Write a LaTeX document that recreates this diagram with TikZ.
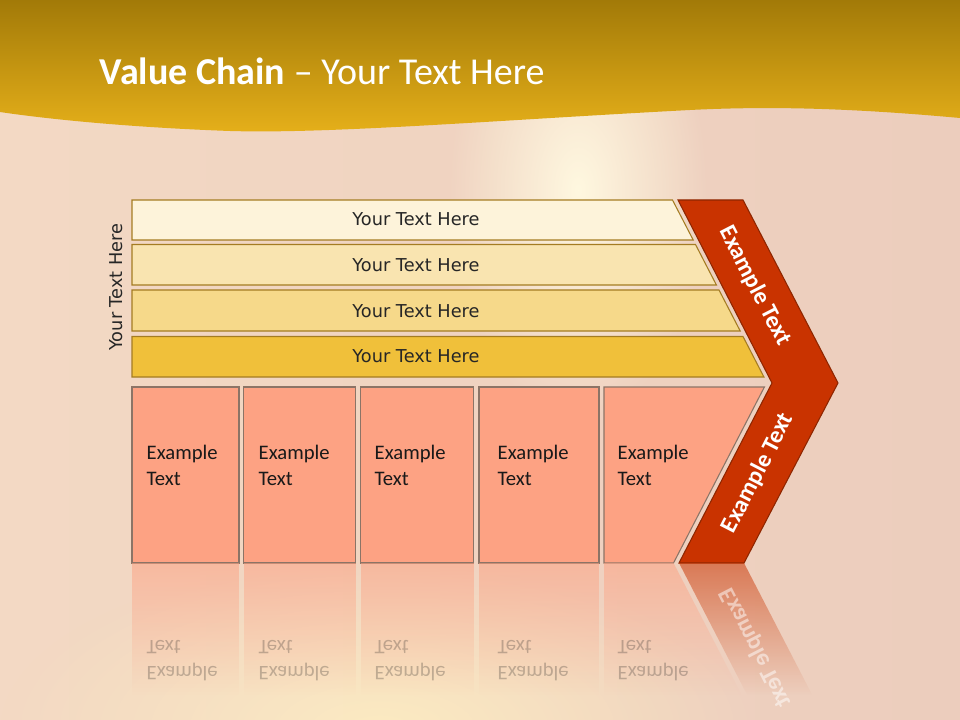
\documentclass[tikz,border=0pt]{standalone}
\usepackage{fontspec}
\setmainfont{Carlito}
\newfontfamily\labelfont{DejaVu Sans}
\usetikzlibrary{fadings}

\definecolor{bgpeach}{HTML}{F3D9C4}
\definecolor{bgmid}{HTML}{F6E2CA}
\definecolor{bgpink}{HTML}{ECCDBD}
\definecolor{glowA}{HTML}{FFF8E0}
\definecolor{glowB}{HTML}{FCEBC2}
\definecolor{goldDark}{HTML}{A27A08}
\definecolor{goldLight}{HTML}{E6B01A}
\definecolor{barA}{HTML}{FDF3DA}
\definecolor{barB}{HTML}{F9E4B0}
\definecolor{barC}{HTML}{F6D98A}
\definecolor{barD}{HTML}{F0C03A}
\definecolor{barline}{HTML}{A47C22}
\definecolor{salmon}{HTML}{FDA283}
\definecolor{boxline}{HTML}{8C7466}
\definecolor{chevred}{HTML}{C93300}
\definecolor{chevline}{HTML}{8E2600}

\tikzfading[name=reflectfade, top color=transparent!45, bottom color=transparent!100]
\tikzfading[name=glowfade, inner color=transparent!0, outer color=transparent!100]

\tikzset{
  bartext/.style={font=\labelfont\fontsize{13.3}{16}\selectfont, text=black!85},
  boxtext/.style={font=\fontsize{15.5}{19.5}\selectfont, align=left, anchor=west, text=black!90},
  chevtext/.style={font=\bfseries\fontsize{18}{21}\selectfont, text=white},
  barshape/.style={draw=barline, line width=0.8pt},
  boxshape/.style={draw=boxline, fill=salmon, line width=0.8pt},
}

\begin{document}
\begin{tikzpicture}[x=0.75pt,y=-0.75pt]
    \useasboundingbox (0,0) rectangle (960,720);

    % background
    \shade[left color=bgpeach, middle color=bgmid, right color=bgpink] (0,0) rectangle (960,720);
    \fill[glowA, path fading=glowfade] (578,190) ellipse [x radius=130, y radius=230];
    \fill[glowB, path fading=glowfade] (380,730) ellipse [x radius=380, y radius=170];

    % title band
    \shade[top color=goldDark, bottom color=goldLight]
        (0,0) -- (960,0) -- (960,118)
        .. controls (850,108) and (770,106) .. (690,110)
        .. controls (500,120) and (330,134) .. (230,131)
        .. controls (120,127) and (40,118) .. (0,112) -- cycle;
    \node[anchor=base west, text=white, font=\fontsize{28.5}{34}\selectfont] (title) at (95,85)
        {\textbf{Value Chain} -- Your Text Here};

    % bars
    \draw[barshape, fill=barA] (132,200) -- (672.5,200) -- (693.2,240) -- (132,240) -- cycle;
    \draw[barshape, fill=barB] (132,244.5) -- (695.5,244.5) -- (716.4,285) -- (132,285) -- cycle;
    \draw[barshape, fill=barC] (132,290) -- (719,290) -- (740.2,331) -- (132,331) -- cycle;
    \draw[barshape, fill=barD] (132,336.5) -- (743,336.5) -- (763.9,377) -- (132,377) -- cycle;

    \node[bartext] (r1) at (416,219) {Your Text Here};
    \node[bartext] (r2) at (416,265.5) {Your Text Here};
    \node[bartext] (r3) at (416,311) {Your Text Here};
    \node[bartext] (r4) at (416,356.5) {Your Text Here};
    \node[bartext, rotate=90] (side) at (116,287) {Your Text Here};

    % boxes
    \draw[boxshape] (132,387) rectangle (239,563);
    \draw[boxshape] (243.5,387) rectangle (355.5,563);
    \draw[boxshape] (360.5,387) rectangle (473.5,563);
    \draw[boxshape] (479,387) rectangle (599,563);
    \draw[boxshape] (604,387) -- (764.4,387) -- (673.5,563) -- (604,563) -- cycle;

    \node[boxtext] (b1) at (142,465) {Example\\Text};
    \node[boxtext] (b2) at (254,465) {Example\\Text};
    \node[boxtext] (b3) at (370,465) {Example\\Text};
    \node[boxtext] (b4) at (493,465) {Example\\Text};
    \node[boxtext] (b5) at (613,465) {Example\\Text};

    % chevron
    \draw[fill=chevred, draw=chevline, line width=0.8pt]
        (678,200) -- (743,200) -- (838,383) -- (744,563) -- (679,563) -- (772,383) -- cycle;
    \node[chevtext, rotate=-62.8] (c1) at (755,286) {Example Text};
    \node[chevtext, rotate=62.8] (c2) at (758,473) {Example Text};

    % reflection
    \fill[salmon, path fading=reflectfade] (132,563) rectangle (239,695);
    \fill[salmon, path fading=reflectfade] (243.5,563) rectangle (355.5,695);
    \fill[salmon, path fading=reflectfade] (360.5,563) rectangle (473.5,695);
    \fill[salmon, path fading=reflectfade] (479,563) rectangle (599,695);
    \fill[salmon, path fading=reflectfade] (604,563) -- (673.5,563) -- (741.7,695) -- (604,695) -- cycle;
    \fill[chevred, path fading=reflectfade] (679,563) -- (744,563) -- (812.2,695) -- (747.2,695) -- cycle;

    \node[boxtext, yscale=-1, text opacity=0.25] (m1) at (142,661) {Example\\Text};
    \node[boxtext, yscale=-1, text opacity=0.25] (m2) at (254,661) {Example\\Text};
    \node[boxtext, yscale=-1, text opacity=0.25] (m3) at (370,661) {Example\\Text};
    \node[boxtext, yscale=-1, text opacity=0.25] (m4) at (493,661) {Example\\Text};
    \node[boxtext, yscale=-1, text opacity=0.25] (m5) at (613,661) {Example\\Text};
    \node[chevtext, rotate=-62.8, yscale=-1, text opacity=0.5] (mc) at (756,648) {Example Text};
\end{tikzpicture}
\end{document}
